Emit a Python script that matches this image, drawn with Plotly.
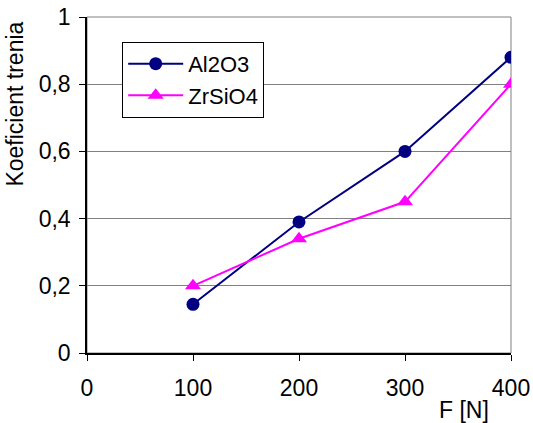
import plotly.graph_objects as go

force = [100, 200, 300, 400]
al2o3 = [0.145, 0.39, 0.60, 0.88]
zrsio4 = [0.20, 0.34, 0.45, 0.80]
x_ticks = [0, 100, 200, 300, 400]
y_ticks = [0, 0.2, 0.4, 0.6, 0.8, 1.0]
y_labels = ["0", "0,2", "0,4", "0,6", "0,8", "1"]

FONT = "Liberation Sans, Arial, sans-serif"
FS = 23

fig = go.Figure()
fig.add_trace(go.Scatter(
    x=force, y=al2o3, name="Al2O3", mode="lines+markers",
    line=dict(color="#000080", width=2),
    marker=dict(symbol="circle", size=13, color="#000080"),
))
fig.add_trace(go.Scatter(
    x=force, y=zrsio4, name="ZrSiO4", mode="lines+markers",
    line=dict(color="#FF00FF", width=2),
    marker=dict(symbol="triangle-up", size=14, color="#FF00FF"),
))

fig.update_layout(
    width=533, height=423,
    margin=dict(l=87, r=22, t=17, b=70, autoexpand=False),
    paper_bgcolor="white", plot_bgcolor="white",
    font=dict(family=FONT, size=FS, color="black"),
    showlegend=True,
    legend=dict(
        x=0.083, y=0.926, xanchor="left", yanchor="top",
        bgcolor="white", bordercolor="black", borderwidth=1,
        font=dict(family=FONT, size=22, color="black"),
        tracegroupgap=0, itemwidth=55,
    ),
    xaxis=dict(
        range=[0, 400], tickvals=x_ticks, ticktext=[str(v) for v in x_ticks],
        showgrid=False, zeroline=False, automargin=False,
        showline=True, linecolor="black", linewidth=1.5,
        ticks="outside", ticklen=6, tickcolor="black", tickwidth=1,
        tickfont=dict(size=FS), ticklabelstandoff=8,
    ),
    yaxis=dict(
        range=[0, 1], tickvals=y_ticks, ticktext=y_labels,
        showgrid=True, gridcolor="#808080", gridwidth=1,
        zeroline=False, automargin=False,
        showline=True, linecolor="black", linewidth=1.5,
        ticks="outside", ticklen=6, tickcolor="black", tickwidth=1,
        tickfont=dict(size=FS), ticklabelstandoff=4,
    ),
    shapes=[dict(type="rect", xref="x domain", yref="y domain", x0=0, x1=1, y0=0, y1=1,
                 line=dict(color="#808080", width=1), layer="below")],
    annotations=[
        dict(text="F [N]", xref="paper", yref="paper", x=0.889, y=-0.17,
             xanchor="center", yanchor="middle", showarrow=False, font=dict(size=FS)),
        dict(text="Koeficient trenia", xref="paper", yref="paper", x=-0.17, y=0.742,
             xanchor="center", yanchor="middle", textangle=-90, showarrow=False,
             font=dict(size=FS)),
    ],
)

fig.write_html("out.html", config={"displayModeBar": False},
               post_script="document.body.style.margin='0';")
